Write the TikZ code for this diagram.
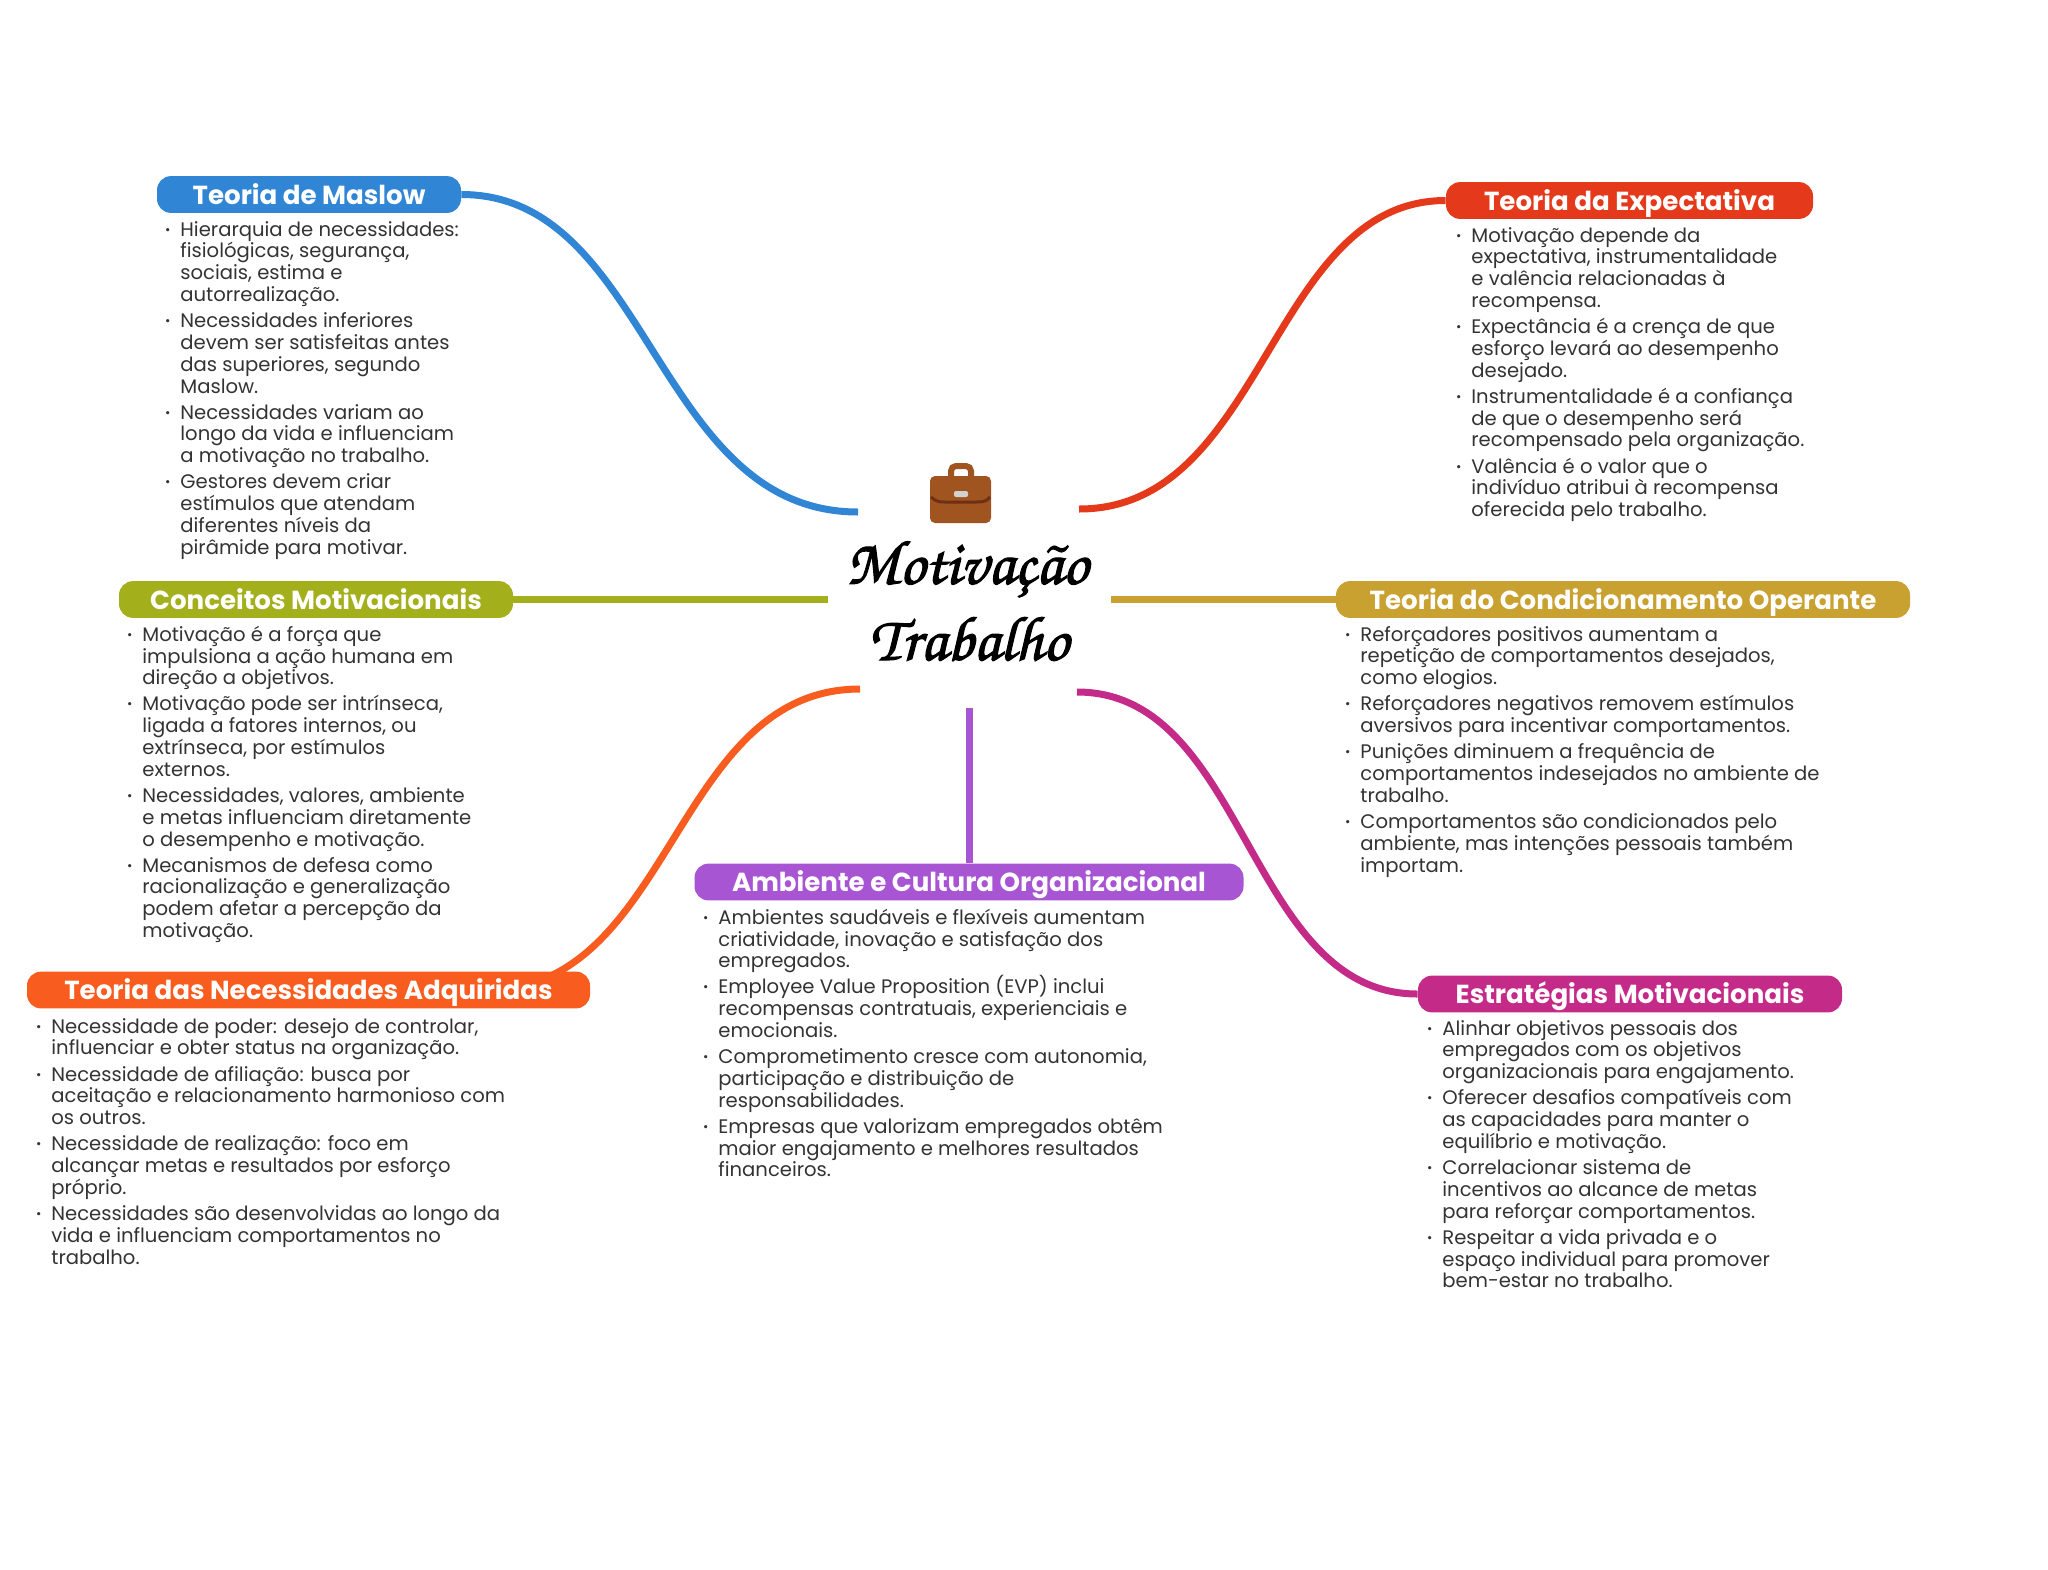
\documentclass[tikz,border=0pt]{standalone}
\usepackage{fontspec}
\usepackage{xcolor}
\usetikzlibrary{backgrounds}
\setmainfont{Poppins}
\definecolor{maslowblue}{HTML}{3085D5}
\definecolor{expectred}{HTML}{E5391B}
\definecolor{condgold}{HTML}{C9A130}
\definecolor{conceitoolive}{HTML}{A3B01C}
\definecolor{adquirorange}{HTML}{F85C1E}
\definecolor{ambientepurple}{HTML}{A855D4}
\definecolor{estratmagenta}{HTML}{C42A88}
\definecolor{bodygray}{HTML}{333333}
\definecolor{casebrown}{HTML}{A0541F}
\definecolor{casedark}{HTML}{6E2F14}
\lineskiplimit=-10pt
\newcommand{\bl}{\leavevmode\strut\llap{\raisebox{1pt}{\fontsize{6.5}{6.5}\selectfont\textbullet}\hspace{5pt}}}
\newcommand{\heavy}[1]{\special{pdf:code 2 Tr 0.55 w}#1\special{pdf:code 0 Tr 1 w}}
\tikzset{
  pill/.style={fill=#1,rounded corners=7pt,inner sep=0pt,text height=14pt,text depth=4.4pt,
    text=white,font=\fontsize{13.05}{14}\selectfont\bfseries},
  bodylist/.style={anchor=north west,inner sep=0pt,align=left,text=bodygray,
    font=\fontsize{9.8}{10.9}\selectfont},
  link/.style={line width=3.5pt,draw=#1},
  hubtext/.style={inner sep=0pt,font=\fontencoding{T1}\fontfamily{pzc}\fontsize{31.6}{36}\selectfont}
}
\begin{document}
\begin{tikzpicture}[x=0.5pt,y=-0.5pt]
 \useasboundingbox (0,0) rectangle (2048,1569);
 % center
 \fill[casebrown,rounded corners=2.5pt] (930,476) rectangle (991,523);
 \draw[casebrown,line width=3pt,rounded corners=2.5pt] (951,476)--(951,466)--(971,466)--(971,476);
 \draw[casedark,line width=1.5pt] (931,497) .. controls (936,502) and (940,502) .. (945,502) -- (976,502) .. controls (982,502) and (986,502) .. (990,497);
 \fill[gray!35,rounded corners=1pt] (954,491) rectangle (968,497);
 \node[hubtext] (hubtop) at (967,567) {\heavy{Motiva\c{c}\~ao}};
 \node[hubtext] (hubbottom) at (969,638) {\heavy{Trabalho}};
 \coordinate (hubnw) at (858,512);
 \coordinate (hubne) at (1079,509);
 \coordinate (hubw) at (828,599.5);
 \coordinate (hube) at (1111,599.5);
 \coordinate (hubsw) at (860,689);
 \coordinate (hubs) at (969,708);
 \coordinate (hubse) at (1077,692);
 % titles
 \node[pill=maslowblue,minimum width=152pt] (maslow) at (309,194.5) {Teoria de Maslow};
 \node[pill=expectred,minimum width=183.5pt] (expect) at (1629.5,200.5) {Teoria da Expectativa};
 \node[pill=conceitoolive,minimum width=197pt] (conceito) at (316,599.5) {Conceitos Motivacionais};
 \node[pill=condgold,minimum width=287pt] (cond) at (1623,599.5) {Teoria do Condicionamento Operante};
 \node[pill=adquirorange,minimum width=281.5pt] (adquir) at (308.5,990) {Teoria das Necessidades Adquiridas};
 \node[pill=ambientepurple,minimum width=274.5pt] (ambiente) at (969,882) {Ambiente e Cultura Organizacional};
 \node[pill=estratmagenta,minimum width=212pt] (estrat) at (1630,994) {Estratégias Motivacionais};
 \coordinate (adquirroot) at (486,990);
 % branches
 \begin{scope}[on background layer]
  \draw[link=maslowblue] (maslow.east) .. controls (650,194.5) and (655,512) .. (hubnw);
  \draw[link=expectred] (expect.west) .. controls (1270,200.5) and (1265,509) .. (hubne);
  \draw[link=conceitoolive] (conceito.east) -- (hubw);
  \draw[link=condgold] (cond.west) -- (hube);
  \draw[link=adquirorange] (adquirroot) .. controls (673,990) and (673,689) .. (hubsw);
  \draw[link=ambientepurple] (ambiente.north) -- (hubs);
  \draw[link=estratmagenta] (estrat.west) .. controls (1247,994) and (1247,692) .. (hubse);
 \end{scope}
 % lists
 \node[bodylist] (maslowlist) at (180,220.5) {\bl Hierarquia de necessidades:\\ fisiológicas, segurança,\\ sociais, estima e\\ autorrealização.\\[2.15pt]
  \bl Necessidades inferiores\\ devem ser satisfeitas antes\\ das superiores, segundo\\ Maslow.\\[2.15pt]
  \bl Necessidades variam ao\\ longo da vida e influenciam\\ a motivação no trabalho.\\[2.15pt]
  \bl Gestores devem criar\\ estímulos que atendam\\ diferentes níveis da\\ pirâmide para motivar.};
 \node[bodylist] (expectlist) at (1471,226.5) {\bl Motivação depende da\\ expectativa, instrumentalidade\\ e valência relacionadas à\\ recompensa.\\[2.15pt]
  \bl Expectância é a crença de que\\ esforço levará ao desempenho\\ desejado.\\[2.15pt]
  \bl Instrumentalidade é a confiança\\ de que o desempenho será\\ recompensado pela organização.\\[2.15pt]
  \bl Valência é o valor que o\\ indivíduo atribui à recompensa\\ oferecida pelo trabalho.};
 \node[bodylist] (conceitolist) at (142,625.5) {\bl Motivação é a força que\\ impulsiona a ação humana em\\ direção a objetivos.\\[2.15pt]
  \bl Motivação pode ser intrínseca,\\ ligada a fatores internos, ou\\ extrínseca, por estímulos\\ externos.\\[2.15pt]
  \bl Necessidades, valores, ambiente\\ e metas influenciam diretamente\\ o desempenho e motivação.\\[2.15pt]
  \bl Mecanismos de defesa como\\ racionalização e generalização\\ podem afetar a percepção da\\ motivação.};
 \node[bodylist] (condlist) at (1360,625.5) {\bl Reforçadores positivos aumentam a\\ repetição de comportamentos desejados,\\ como elogios.\\[2.15pt]
  \bl Reforçadores negativos removem estímulos\\ aversivos para incentivar comportamentos.\\[2.15pt]
  \bl Punições diminuem a frequência de\\ comportamentos indesejados no ambiente de\\ trabalho.\\[2.15pt]
  \bl Comportamentos são condicionados pelo\\ ambiente, mas intenções pessoais também\\ importam.};
 \node[bodylist] (adquirlist) at (51,1017.5) {\bl Necessidade de poder: desejo de controlar,\\ influenciar e obter status na organização.\\[2.15pt]
  \bl Necessidade de afiliação: busca por\\ aceitação e relacionamento harmonioso com\\ os outros.\\[2.15pt]
  \bl Necessidade de realização: foco em\\ alcançar metas e resultados por esforço\\ próprio.\\[2.15pt]
  \bl Necessidades são desenvolvidas ao longo da\\ vida e influenciam comportamentos no\\ trabalho.};
 \node[bodylist] (ambientelist) at (718,908.5) {\bl Ambientes saudáveis e flexíveis aumentam\\ criatividade, inovação e satisfação dos\\ empregados.\\[2.15pt]
  \bl Employee Value Proposition (EVP) inclui\\ recompensas contratuais, experienciais e\\ emocionais.\\[2.15pt]
  \bl Comprometimento cresce com autonomia,\\ participação e distribuição de\\ responsabilidades.\\[2.15pt]
  \bl Empresas que valorizam empregados obtêm\\ maior engajamento e melhores resultados\\ financeiros.};
 \node[bodylist] (estratlist) at (1442,1019.5) {\bl Alinhar objetivos pessoais dos\\ empregados com os objetivos\\ organizacionais para engajamento.\\[2.15pt]
  \bl Oferecer desafios compatíveis com\\ as capacidades para manter o\\ equilíbrio e motivação.\\[2.15pt]
  \bl Correlacionar sistema de\\ incentivos ao alcance de metas\\ para reforçar comportamentos.\\[2.15pt]
  \bl Respeitar a vida privada e o\\ espaço individual para promover\\ bem-estar no trabalho.};
\end{tikzpicture}
\end{document}
